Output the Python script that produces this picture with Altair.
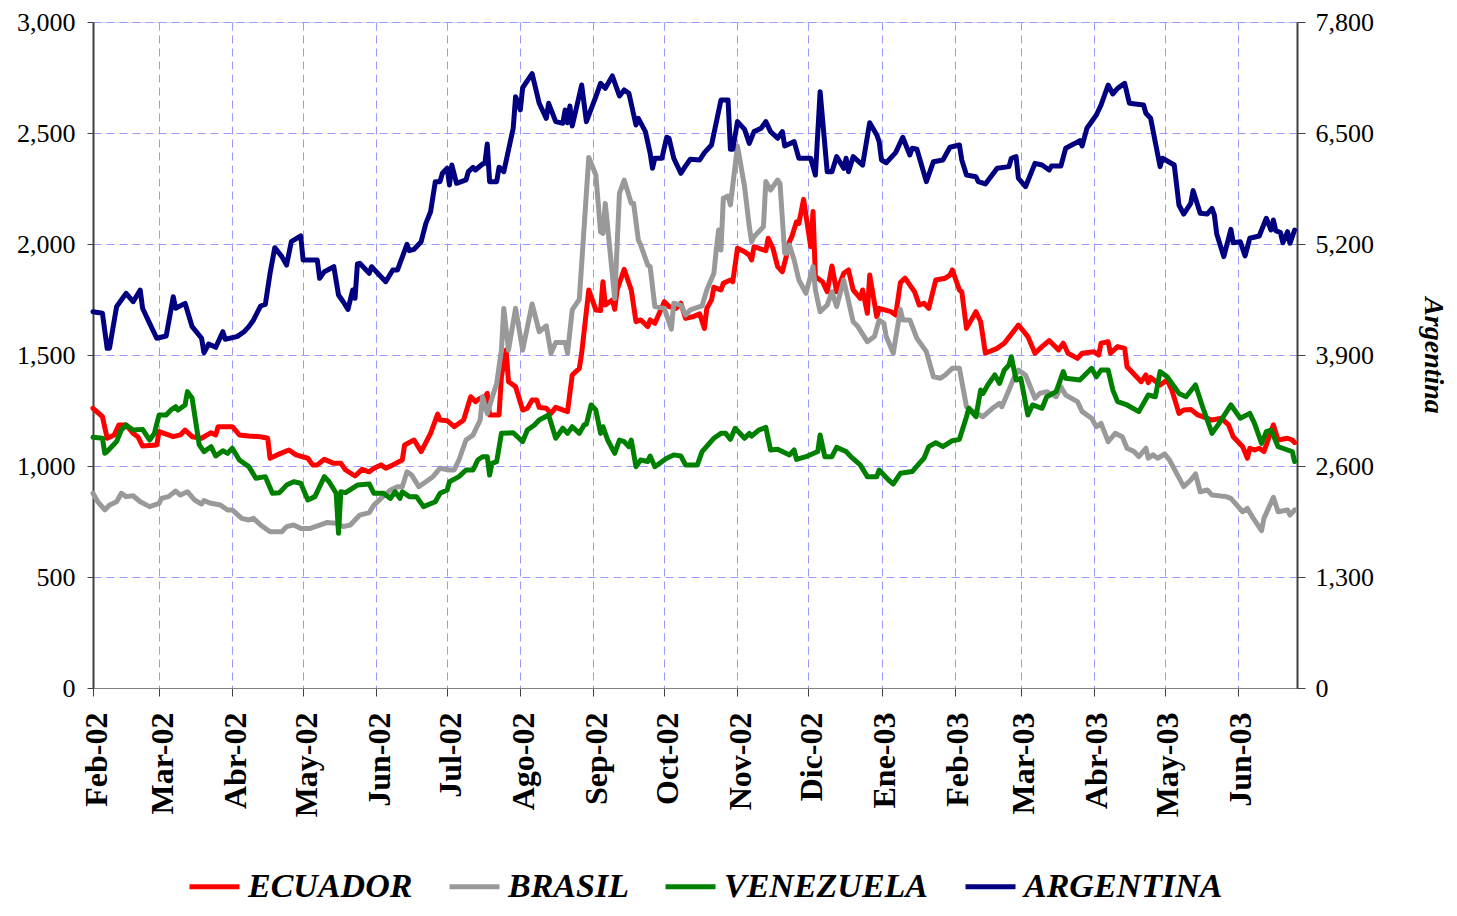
import json
import altair as alt
import pandas as pd

# ---------------- data ----------------
START = "2002-02-01"          # day 0
END = "2003-06-26"            # right edge of the time axis

series_names = ["ECUADOR", "BRASIL", "VENEZUELA", "ARGENTINA"]
series_colors = ["#FF0000", "#999999", "#008000", "#000080"]

month_labels = ["Feb-02", "Mar-02", "Abr-02", "May-02", "Jun-02", "Jul-02",
                "Ago-02", "Sep-02", "Oct-02", "Nov-02", "Dic-02", "Ene-03",
                "Feb-03", "Mar-03", "Abr-03", "May-03", "Jun-03"]
left_ticks = [0, 500, 1000, 1500, 2000, 2500, 3000]
right_ticks = [0, 1300, 2600, 3900, 5200, 6500, 7800]

# day offsets from START and spread values
ecu_day = [0, 4, 6, 9, 11, 14, 17, 19, 21, 27, 28, 34, 37, 39, 42, 46, 50, 52, 53, 59,
           62, 66, 71, 74, 75, 78, 83, 86, 91, 93, 95, 98, 102, 105, 107, 111, 114, 117, 119, 122,
           124, 127, 131, 132, 136, 139, 143, 146, 147, 150, 153, 157, 160, 162, 164, 166, 167, 168, 172, 173,
           175, 176, 179, 182, 184, 186, 188, 189, 192, 194, 196, 201, 203, 206, 207, 210, 213, 215, 216, 217,
           220, 221, 222, 225, 228, 230, 232, 235, 236, 238, 242, 244, 247, 249, 251, 254, 257, 259, 260, 262,
           263, 266, 267, 270, 271, 273, 276, 278, 279, 280, 285, 286, 288, 290, 292, 294, 295, 296, 298, 299,
           301, 304, 305, 306, 309, 311, 313, 315, 318, 320, 322, 325, 326, 328, 329, 332, 333, 338, 340, 342,
           344, 347, 348, 350, 352, 354, 357, 361, 363, 364, 367, 368, 370, 374, 376, 378, 383, 386, 392, 396,
           399, 402, 405, 409, 411, 413, 417, 419, 424, 426, 427, 430, 431, 434, 437, 438, 442, 444, 446, 447,
           448, 452, 455, 457, 460, 462, 465, 468, 474, 478, 481, 483, 487, 489, 490, 492, 494, 496, 498, 500,
           502, 506, 508, 509]
ecu_val = [1260, 1222, 1125, 1140, 1185, 1185, 1147, 1132, 1090, 1095, 1155, 1132, 1140, 1162, 1132, 1125, 1150, 1140, 1177, 1177,
           1140, 1135, 1132, 1125, 1035, 1050, 1072, 1050, 1035, 1005, 1005, 1030, 1012, 1012, 982, 955, 985, 974, 990, 1005,
           990, 1005, 1027, 1095, 1117, 1065, 1147, 1234, 1207, 1204, 1177, 1207, 1312, 1290, 1305, 1312, 1327, 1230, 1230, 1402,
           1522, 1380, 1357, 1252, 1260, 1297, 1297, 1264, 1260, 1237, 1264, 1245, 1410, 1440, 1508, 1793, 1703, 1700, 1830, 1725,
           1748, 1706, 1793, 1886, 1793, 1650, 1658, 1628, 1658, 1643, 1740, 1718, 1710, 1733, 1665, 1672, 1685, 1620, 1710, 1748,
           1805, 1793, 1823, 1838, 1830, 1981, 1965, 1950, 1928, 1988, 1970, 2026, 1981, 1898, 1875, 1958, 2010, 2033, 2100, 2093,
           2201, 1988, 2146, 1853, 1830, 1785, 1901, 1785, 1868, 1883, 1793, 1755, 1793, 1688, 1860, 1672, 1710, 1695, 1680, 1826,
           1846, 1800, 1785, 1725, 1733, 1710, 1838, 1846, 1860, 1883, 1793, 1785, 1620, 1695, 1650, 1508, 1530, 1553, 1635, 1583,
           1508, 1538, 1565, 1523, 1553, 1508, 1485, 1508, 1515, 1500, 1553, 1560, 1508, 1538, 1530, 1447, 1402, 1380, 1410, 1375,
           1399, 1365, 1387, 1342, 1237, 1252, 1255, 1230, 1207, 1215, 1185, 1132, 1087, 1035, 1080, 1072, 1080, 1065, 1125, 1185,
           1117, 1125, 1117, 1105]

bra_day = [0, 2, 5, 7, 10, 12, 14, 17, 20, 24, 28, 29, 32, 35, 37, 40, 43, 46, 47, 50,
           54, 57, 59, 63, 66, 68, 71, 75, 80, 82, 85, 88, 92, 96, 99, 103, 106, 109, 111, 113,
           117, 119, 122, 126, 129, 131, 133, 135, 138, 141, 144, 147, 151, 153, 155, 158, 161, 164, 165, 167,
           169, 171, 173, 174, 176, 179, 182, 186, 189, 192, 194, 196, 200, 201, 203, 206, 210, 213, 215, 216,
           217, 221, 223, 225, 228, 229, 231, 232, 235, 236, 238, 242, 245, 246, 249, 251, 253, 258, 260, 263,
           264, 265, 266, 267, 269, 270, 273, 276, 278, 279, 280, 284, 285, 287, 290, 291, 293, 294, 295, 297,
           299, 302, 305, 306, 308, 311, 313, 315, 318, 322, 324, 328, 331, 333, 335, 336, 339, 342, 343, 346,
           349, 353, 356, 359, 361, 364, 367, 370, 372, 377, 381, 384, 385, 388, 390, 392, 395, 399, 401, 404,
           408, 410, 412, 417, 419, 423, 425, 427, 430, 433, 436, 438, 441, 443, 446, 447, 449, 451, 454, 456,
           459, 462, 465, 467, 469, 472, 474, 480, 482, 487, 489, 491, 495, 496, 500, 502, 506, 507, 509]
bra_val = [877, 839, 802, 824, 839, 877, 862, 866, 839, 817, 832, 854, 862, 887, 869, 884, 847, 829, 844, 832,
           824, 802, 802, 764, 757, 764, 734, 704, 704, 727, 734, 719, 719, 734, 745, 742, 727, 734, 757, 779,
           790, 824, 854, 892, 907, 907, 974, 959, 907, 929, 952, 990, 982, 982, 1027, 1117, 1140, 1207, 1312, 1237,
           1305, 1372, 1522, 1710, 1522, 1710, 1522, 1730, 1605, 1631, 1508, 1556, 1556, 1508, 1703, 1751, 2390, 2311, 2055, 2048,
           2183, 1755, 2228, 2288, 2183, 2183, 2018, 1995, 1905, 1898, 1718, 1710, 1616, 1733, 1725, 1680, 1703, 1721, 1793, 1868,
           1973, 2063, 1973, 2206, 2216, 2176, 2441, 2258, 2078, 2010, 2033, 2078, 2281, 2243, 2288, 2273, 1958, 1958, 1995, 1928,
           1838, 1778, 1898, 1793, 1695, 1725, 1785, 1718, 1838, 1650, 1628, 1560, 1583, 1658, 1643, 1583, 1508, 1705, 1658, 1658,
           1575, 1515, 1402, 1395, 1410, 1440, 1440, 1267, 1252, 1222, 1260, 1282, 1267, 1342, 1395, 1432, 1410, 1305, 1327, 1335,
           1312, 1357, 1320, 1290, 1245, 1215, 1177, 1192, 1110, 1147, 1132, 1080, 1065, 1042, 1080, 1035, 1050, 1035, 1054, 1027,
           967, 907, 937, 964, 884, 892, 869, 862, 854, 794, 809, 772, 709, 764, 859, 794, 802, 779, 802]

ven_day = [0, 4, 5, 6, 10, 12, 14, 17, 21, 24, 26, 28, 31, 33, 35, 36, 39, 40, 42, 45,
           47, 50, 52, 55, 57, 59, 62, 66, 69, 73, 76, 79, 82, 85, 88, 91, 94, 98, 100, 103,
           104, 105, 107, 112, 117, 119, 123, 126, 128, 130, 131, 134, 137, 140, 145, 147, 150, 151, 155, 158,
           161, 163, 165, 167, 168, 169, 171, 173, 178, 182, 184, 187, 189, 193, 196, 199, 201, 203, 206, 208,
           209, 211, 213, 215, 216, 218, 221, 223, 225, 227, 228, 230, 232, 235, 236, 238, 243, 246, 249, 251,
           256, 258, 263, 266, 268, 270, 272, 276, 278, 279, 282, 285, 287, 290, 295, 297, 298, 302, 307, 308,
           310, 313, 315, 319, 321, 325, 328, 332, 333, 337, 339, 342, 347, 350, 352, 354, 357, 360, 364, 367,
           370, 371, 374, 376, 377, 379, 382, 384, 386, 388, 389, 391, 393, 396, 398, 402, 404, 408, 411, 412,
           418, 423, 425, 427, 430, 432, 434, 438, 443, 447, 450, 452, 455, 458, 460, 463, 467, 470, 472, 474,
           477, 482, 486, 490, 492, 495, 497, 499, 502, 506, 508, 509]
ven_val = [1129, 1125, 1057, 1065, 1110, 1162, 1185, 1162, 1165, 1117, 1147, 1230, 1230, 1252, 1267, 1252, 1275, 1335, 1305, 1095,
           1065, 1087, 1045, 1069, 1057, 1080, 1027, 997, 945, 952, 877, 880, 914, 929, 922, 847, 862, 952, 929, 877,
           697, 884, 880, 914, 919, 877, 877, 854, 884, 854, 884, 862, 862, 817, 839, 877, 892, 929, 952, 982,
           982, 1027, 1042, 1042, 959, 1012, 1020, 1147, 1150, 1110, 1162, 1185, 1207, 1230, 1125, 1170, 1147, 1177, 1147, 1185,
           1189, 1275, 1252, 1147, 1177, 1117, 1057, 1117, 1110, 1087, 1117, 997, 1027, 1020, 1045, 997, 1035, 1050, 1045, 1005,
           1005, 1065, 1125, 1147, 1147, 1120, 1170, 1125, 1147, 1135, 1162, 1174, 1072, 1075, 1050, 1072, 1030, 1042, 1065, 1140,
           1042, 1042, 1084, 1065, 1042, 1005, 952, 952, 982, 937, 919, 967, 975, 1012, 1035, 1087, 1105, 1087, 1114, 1120,
           1222, 1260, 1222, 1342, 1327, 1365, 1410, 1372, 1432, 1455, 1492, 1387, 1395, 1230, 1275, 1260, 1312, 1335, 1425, 1395,
           1387, 1440, 1402, 1432, 1432, 1342, 1290, 1275, 1245, 1320, 1312, 1425, 1402, 1357, 1327, 1312, 1365, 1267, 1207, 1147,
           1192, 1275, 1215, 1237, 1192, 1102, 1155, 1162, 1087, 1072, 1065, 1020]

arg_day = [0, 4, 6, 7, 10, 12, 14, 17, 20, 21, 24, 27, 31, 34, 35, 39, 42, 46, 47, 49,
           52, 55, 56, 61, 64, 66, 68, 71, 73, 75, 77, 80, 82, 84, 88, 89, 95, 96, 98, 102,
           104, 106, 108, 110, 111, 112, 113, 117, 118, 122, 124, 127, 129, 133, 134, 136, 139, 141, 143, 145,
           147, 148, 150, 151, 152, 154, 158, 159, 161, 162, 165, 166, 167, 168, 171, 172, 174, 176, 178, 179,
           181, 182, 186, 189, 192, 193, 196, 199, 200, 201, 202, 203, 207, 209, 213, 215, 217, 220, 223, 225,
           227, 230, 231, 234, 236, 237, 238, 241, 243, 244, 246, 249, 251, 253, 257, 259, 262, 266, 269, 270,
           271, 273, 276, 278, 280, 283, 285, 287, 290, 292, 293, 297, 299, 304, 306, 308, 311, 313, 315, 318,
           319, 320, 322, 326, 329, 332, 333, 334, 336, 340, 343, 346, 347, 349, 353, 356, 360, 363, 367, 368,
           370, 374, 375, 378, 383, 388, 389, 391, 392, 395, 399, 402, 405, 406, 410, 412, 416, 418, 419, 421,
           425, 427, 430, 432, 434, 437, 439, 445, 446, 448, 452, 453, 458, 460, 462, 465, 466, 469, 472, 474,
           475, 476, 479, 482, 483, 486, 488, 490, 494, 497, 499, 500, 501, 503, 504, 506, 507, 509]
arg_val = [4407, 4388, 3978, 3980, 4466, 4544, 4622, 4524, 4661, 4447, 4271, 4096, 4123, 4583, 4447, 4505, 4232, 4096, 3927, 4029,
           3990, 4173, 4084, 4115, 4173, 4232, 4310, 4474, 4494, 4857, 5157, 5052, 4954, 5227, 5294, 5013, 5013, 4798, 4876, 4934,
           4603, 4524, 4435, 4661, 4564, 4966, 4974, 4857, 4934, 4817, 4759, 4896, 4896, 5196, 5122, 5138, 5227, 5442, 5578, 5930,
           5930, 6028, 6087, 5891, 6125, 5911, 5950, 6047, 6098, 6067, 6137, 6145, 6371, 5930, 5930, 6100, 6047, 6300, 6555, 6925,
           6770, 7030, 7195, 6848, 6672, 6848, 6633, 6614, 6770, 6620, 6816, 6582, 7062, 6633, 6925, 7082, 7023, 7168, 6933, 7004,
           6965, 6594, 6672, 6516, 6262, 6087, 6204, 6204, 6450, 6438, 6204, 6028, 6114, 6192, 6184, 6270, 6360, 6887, 6887, 6309,
           6309, 6633, 6543, 6379, 6516, 6555, 6633, 6516, 6438, 6516, 6348, 6399, 6204, 6204, 6008, 6984, 6047, 6047, 6223, 6087,
           6204, 6047, 6223, 6125, 6621, 6477, 6400, 6184, 6152, 6270, 6450, 6242, 6321, 6309, 5930, 6164, 6184, 6333, 6360, 6184,
           6008, 5988, 5930, 5903, 6087, 6106, 6204, 6223, 5970, 5871, 6145, 6125, 6067, 6114, 6114, 6321, 6379, 6410, 6348, 6555,
           6711, 6828, 7062, 6957, 7023, 7082, 6848, 6828, 6731, 6672, 6106, 6204, 6125, 5657, 5551, 5677, 5825, 5560, 5551, 5618,
           5540, 5317, 5052, 5372, 5215, 5227, 5060, 5267, 5294, 5501, 5364, 5481, 5356, 5333, 5215, 5344, 5208, 5364]

# ---------------- table ----------------
start = pd.Timestamp(START)
rows = []
for name, days, vals in [("ECUADOR", ecu_day, ecu_val), ("BRASIL", bra_day, bra_val),
                         ("VENEZUELA", ven_day, ven_val), ("ARGENTINA", arg_day, arg_val)]:
    for i, (d, v) in enumerate(zip(days, vals)):
        rows.append({"serie": name, "idx": i,
                     "fecha": (start + pd.Timedelta(days=d)).strftime("%Y-%m-%dT00:00:00"),
                     "valor": v})
df = pd.DataFrame(rows)

FONT = "Liberation Serif"
GRID = "#9999FF"
LINE_W = 5

month_starts = pd.date_range(START, periods=len(month_labels), freq="MS")
x_values = [alt.DateTime(year=int(m.year), month=int(m.month), date=1) for m in month_starts]
label_expr = json.dumps(month_labels) + "[(year(datum.value)-2002)*12+month(datum.value)-1]"

end = pd.Timestamp(END)
x_enc = alt.X(
    "fecha:T",
    scale=alt.Scale(domain=[alt.DateTime(year=2002, month=2, date=1),
                            alt.DateTime(year=int(end.year), month=int(end.month), date=int(end.day))],
                    nice=False),
    axis=alt.Axis(values=x_values, labelExpr=label_expr, title=None,
                  labelAngle=270, labelAlign="right", labelBaseline="middle",
                  labelFont=FONT, labelFontWeight="bold", labelFontSize=32, labelColor="black",
                  labelPadding=16, labelOffset=3, labelFlush=False, labelOverlap=False,
                  tickSize=8, tickColor="#404040", tickWidth=1,
                  domainColor="#808080", domainWidth=1,
                  grid=True, gridColor=GRID, gridDash=[8, 5], gridWidth=1),
)

color_enc = alt.Color(
    "serie:N",
    scale=alt.Scale(domain=series_names, range=series_colors),
    legend=alt.Legend(title=None, orient="none", direction="horizontal", legendX=94, legendY=837,
                      symbolType="stroke", symbolSize=2500, symbolStrokeWidth=5,
                      labelFont=FONT, labelFontSize=34, labelFontStyle="italic", labelFontWeight="bold",
                      labelColor="black", labelOffset=6, labelLimit=400, columnPadding=26),
)

left = alt.Chart(df).transform_filter(
    alt.FieldOneOfPredicate(field="serie", oneOf=series_names[:3])
).mark_line(strokeWidth=LINE_W, strokeJoin="round", strokeCap="round").encode(
    x=x_enc,
    y=alt.Y("valor:Q", scale=alt.Scale(domain=[0, 3000], nice=False),
            axis=alt.Axis(values=left_ticks, format=",d", title=None,
                          labelFont=FONT, labelFontSize=26, labelColor="black", labelPadding=12,
                          tickSize=6, tickColor="#404040", domainColor="#404040", domainWidth=2,
                          grid=True, gridColor=GRID, gridDash=[8, 5], gridWidth=1)),
    color=color_enc,
    order=alt.Order("idx:Q"),
)

right = alt.Chart(df).transform_filter(
    alt.datum.serie == "ARGENTINA"
).mark_line(strokeWidth=LINE_W, strokeJoin="round", strokeCap="round").encode(
    x=x_enc,
    y=alt.Y("valor:Q", scale=alt.Scale(domain=[0, 7800], nice=False),
            axis=alt.Axis(orient="right", values=right_ticks, format=",d", grid=False,
                          title="Argentina", titleFont=FONT, titleFontSize=28, titleFontStyle="italic",
                          titleFontWeight="bold", titleColor="black", titleAngle=90, titlePadding=45,
                          labelFont=FONT, labelFontSize=26, labelColor="black", labelPadding=10,
                          tickSize=8, tickColor="#404040", domainColor="#404040", domainWidth=2)),
    color=color_enc,
    order=alt.Order("idx:Q"),
)

chart = alt.layer(left, right).resolve_scale(y="independent").properties(
    width=1204, height=666,
    padding={"left": 85, "top": 14, "right": 152, "bottom": 220},
    autosize=alt.AutoSizeParams(type="none"),
    background="white",
).configure_view(stroke="#808080", strokeWidth=1).configure(font=FONT)

chart.save("out.html", embed_options={"renderer": "svg", "actions": False})
